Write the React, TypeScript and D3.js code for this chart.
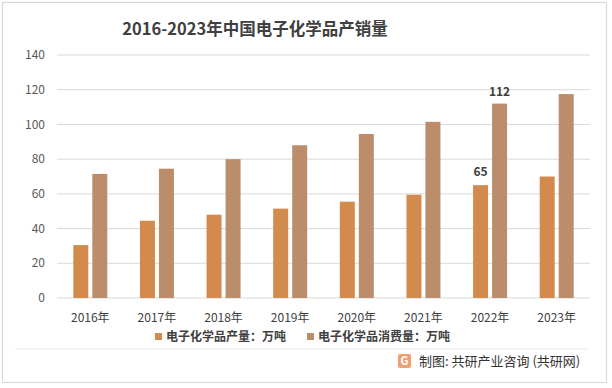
import React from 'react';
import * as d3 from 'd3';

const years = ['2016年', '2017年', '2018年', '2019年', '2020年', '2021年', '2022年', '2023年'];
const production = [30.5, 44.5, 48, 51.5, 55.5, 59.5, 65, 70];
const consumption = [71.5, 74.5, 80, 88, 94.5, 101.5, 112, 117.5];
const yTicks = [0, 20, 40, 60, 80, 100, 120, 140];
const seriesNames = ['电子化学品产量：万吨', '电子化学品消费量：万吨'];
const colors = ['#D38B4D', '#BB8D6B'];
// only the 2022 pair carries value labels in the original
const labelled = [6];

const W = 612;
const H = 388;
const font = '"Noto Sans CJK SC", "Noto Sans", sans-serif';

const App: React.FC = () => {
  const x = d3.scaleBand<string>().domain(years).range([57, 590]);
  const y = d3.scaleLinear().domain([0, 140]).range([298, 55]);
  const barW = 15;
  const gap = 4;

  return (
    <svg width={W} height={H} style={{ position: 'absolute', left: 0, top: 0, background: '#fff' }} fontFamily={font}>
      <rect x={2.5} y={2.5} width={604} height={380} fill="#fff" stroke="#D9D9D9" strokeWidth={1.2} />

      <text x={255} y={35} textAnchor="middle" fontSize={16.5} fontWeight="bold" fill="#404040">
        2016-2023年中国电子化学品产销量
      </text>

      {/* grid + y labels */}
      {yTicks.map(t => (
        <g key={t}>
          <line x1={57} x2={590} y1={y(t)} y2={y(t)} stroke="#D9D9D9" strokeWidth={1} />
          <text x={45} y={y(t)} dy="0.35em" textAnchor="end" fontSize={12} fill="#595959">{t}</text>
        </g>
      ))}

      {/* bars */}
      {years.map((yr, i) => {
        const cx = (x(yr) as number) + x.bandwidth() / 2;
        const px = cx - gap / 2 - barW;
        const qx = cx + gap / 2;
        return (
          <g key={yr}>
            <rect x={px} y={y(production[i])} width={barW} height={y(0) - y(production[i])} fill={colors[0]} />
            <rect x={qx} y={y(consumption[i])} width={barW} height={y(0) - y(consumption[i])} fill={colors[1]} />
            {labelled.includes(i) && (
              <>
                <text x={px + barW / 2} y={y(production[i]) - 13} dy="0.35em" textAnchor="middle" fontSize={12} fontWeight="bold" fill="#404040">{production[i]}</text>
                <text x={qx + barW / 2} y={y(consumption[i]) - 12} dy="0.35em" textAnchor="middle" fontSize={12} fontWeight="bold" fill="#404040">{consumption[i]}</text>
              </>
            )}
            <text x={cx} y={318} dy="0.35em" textAnchor="middle" fontSize={12} fill="#404040">{yr}</text>
          </g>
        );
      })}

      {/* legend */}
      {seriesNames.map((s, i) => {
        const lx = [155, 307][i];
        return (
          <g key={s}>
            <rect x={lx} y={333} width={7} height={7} fill={colors[i]} />
            <text x={lx + 11} y={336.5} dy="0.35em" fontSize={12} fontWeight="bold" fill="#404040">{s}</text>
          </g>
        );
      })}

      <line x1={15} x2={587} y1={349} y2={349} stroke="#E6E6E6" strokeWidth={1} />

      {/* credit */}
      <g transform="translate(398,354)">
        <rect x={0} y={0} width={13} height={14} rx={2} fill="#F0A070" />
        <text x={6.5} y={7} dy="0.35em" textAnchor="middle" fontSize={11} fontWeight="bold" fill="#fff">G</text>
      </g>
      <text x={419} y={361} dy="0.35em" fontSize={13} fill="#333">制图: 共研产业咨询 (共研网)</text>
    </svg>
  );
};

export default App;
